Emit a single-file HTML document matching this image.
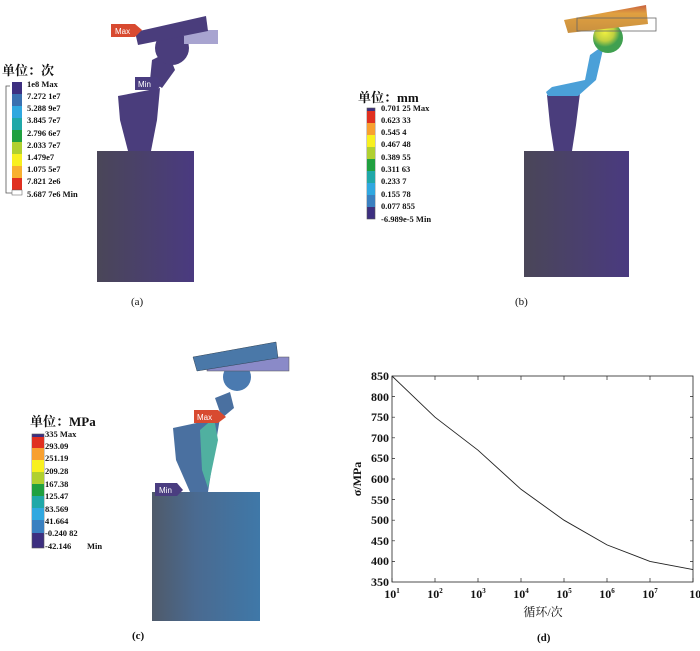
<!DOCTYPE html>
<html><head><meta charset="utf-8"><style>
body{margin:0;background:#fff}
svg text{font-family:"Liberation Serif","Noto Serif CJK SC",serif;fill:#111}
.b{font-weight:bold}
</style></head><body>
<svg width="700" height="646" viewBox="0 0 700 646" xmlns="http://www.w3.org/2000/svg">
<defs>
<linearGradient id="gp" x1="0" x2="1"><stop offset="0" stop-color="#4a4658"/><stop offset="1" stop-color="#4a3a80"/></linearGradient>
<linearGradient id="gb" x1="0" x2="1"><stop offset="0" stop-color="#4f5a6a"/><stop offset="0.4" stop-color="#4a6a90"/><stop offset="1" stop-color="#3f78a8"/></linearGradient>
<linearGradient id="gy" x1="0" x2="0" y1="0" y2="1"><stop offset="0" stop-color="#c86040"/><stop offset="0.3" stop-color="#e0a040"/><stop offset="1" stop-color="#c89040"/></linearGradient>
<radialGradient id="ball" cx="0.4" cy="0.3"><stop offset="0" stop-color="#f0f040"/><stop offset="0.6" stop-color="#c0d040"/><stop offset="1" stop-color="#40a050"/></radialGradient>
</defs>

<!-- Panel a -->
<rect x="97" y="151" width="97" height="131" fill="url(#gp)"/>
<polygon points="118,96 160,88 157,120 151,151 128,151 120,120" fill="#4a3d7c"/>
<polygon points="152,60 168,52 175,70 162,88 150,80" fill="#4a3d7c"/>
<circle cx="172" cy="48" r="17" fill="#4a3d7c"/>
<rect x="184" y="30" width="34" height="14" fill="#a8a4d0"/>
<polygon points="135,32 206,16 208,31 138,45" fill="#4a3d7c"/>
<polygon points="111,24 135,24 142,30 135,37 111,37" fill="#d84a30"/>
<text x="115" y="34" font-size="8" style="fill:#fff;font-family:'Liberation Sans',sans-serif">Max</text>
<polygon points="135,77 157,77 162,84 157,90 135,90" fill="#4a3d80"/>
<text x="138" y="87" font-size="8" style="fill:#fff;font-family:'Liberation Sans',sans-serif">Min</text>
<text x="2" y="75" font-size="13" class="b">单位：次</text>
<path d="M10,86 H6 V193 H12" fill="none" stroke="#555" stroke-width="0.8"/>
<g transform="translate(12,82)">
<rect y="0" width="10" height="12" fill="#3d2f80"/><rect y="12" width="10" height="12" fill="#3a70b0"/><rect y="24" width="10" height="12" fill="#30a8e0"/><rect y="36" width="10" height="12" fill="#20a8a8"/><rect y="48" width="10" height="12" fill="#20a040"/><rect y="60" width="10" height="12" fill="#b0d030"/><rect y="72" width="10" height="12" fill="#f8f020"/><rect y="84" width="10" height="12" fill="#f8b030"/><rect y="96" width="10" height="12" fill="#e03020"/><rect y="108" width="10" height="5" fill="#fff" stroke="#555" stroke-width="0.5"/>
</g>
<g font-size="8.5" class="b">
<text x="27" y="87">1e8 Max</text><text x="27" y="99">7.272 1e7</text><text x="27" y="111">5.288 9e7</text><text x="27" y="123">3.845 7e7</text><text x="27" y="136">2.796 6e7</text><text x="27" y="148">2.033 7e7</text><text x="27" y="160">1.479e7</text><text x="27" y="172">1.075 5e7</text><text x="27" y="184">7.821 2e6</text><text x="27" y="197">5.687 7e6  Min</text>
</g>
<text x="131" y="305" font-size="11">(a)</text>

<!-- Panel b -->
<rect x="524" y="151" width="105" height="126" fill="url(#gp)"/>
<polygon points="547,95 580,93 576,125 572,151 554,151 550,125" fill="#4a3d7c"/>
<polygon points="546,92 552,87 585,80 590,55 604,45 596,80 578,96 548,96" fill="#4ba0d8"/>
<circle cx="608" cy="38" r="15" fill="url(#ball)"/>
<polygon points="564,20 646,5 648,24 568,33" fill="url(#gy)"/>
<rect x="577" y="18" width="79" height="13" fill="none" stroke="#666" stroke-width="0.8"/>
<text x="358" y="102" font-size="13" class="b">单位：mm</text>
<g transform="translate(367,108)">
<rect width="8" height="111" fill="#3d2f80" stroke="#555" stroke-width="0.6"/>
<rect y="3" width="8" height="12" fill="#e03020"/><rect y="15" width="8" height="12" fill="#f8a030"/><rect y="27" width="8" height="12" fill="#f8f020"/><rect y="39" width="8" height="12" fill="#b0d030"/><rect y="51" width="8" height="12" fill="#20a040"/><rect y="63" width="8" height="12" fill="#20a8a8"/><rect y="75" width="8" height="12" fill="#30a8e0"/><rect y="87" width="8" height="12" fill="#3a80c0"/>
</g>
<g font-size="8.5" class="b">
<text x="381" y="111">0.701 25 Max</text><text x="381" y="123">0.623 33</text><text x="381" y="135">0.545 4</text><text x="381" y="147">0.467 48</text><text x="381" y="160">0.389 55</text><text x="381" y="172">0.311 63</text><text x="381" y="184">0.233 7</text><text x="381" y="197">0.155 78</text><text x="381" y="209">0.077 855</text><text x="381" y="222">-6.989e-5  Min</text>
</g>
<text x="515" y="305" font-size="11">(b)</text>

<!-- Panel c -->
<rect x="152" y="492" width="108" height="129" fill="url(#gb)"/>
<polygon points="173,428 220,418 213,460 208,492 190,492 176,460" fill="#4a70a0"/>
<polygon points="200,430 214,418 218,440 208,488 202,470" fill="#50b0a0"/>
<polygon points="215,398 230,392 234,408 222,418" fill="#4a70a0"/>
<circle cx="237" cy="377" r="14" fill="#4a7ab0"/>
<rect x="207" y="357" width="82" height="14" fill="#8a8ac8" stroke="#555" stroke-width="0.5"/>
<polygon points="193,357 276,342 278,358 197,371" fill="#4a78a8" stroke="#345" stroke-width="0.5"/>
<polygon points="194,410 218,410 226,417 218,423 194,423" fill="#d84a30"/>
<text x="197" y="420" font-size="8" style="fill:#fff;font-family:'Liberation Sans',sans-serif">Max</text>
<polygon points="155,483 177,483 183,490 177,496 155,496" fill="#4a3d80"/>
<text x="159" y="493" font-size="8" style="fill:#fff;font-family:'Liberation Sans',sans-serif">Min</text>
<text x="30" y="426" font-size="13" class="b">单位：MPa</text>
<g transform="translate(32,434)">
<rect width="12" height="114" fill="#3d2f80" stroke="#555" stroke-width="0.6"/>
<rect y="3" width="12" height="11" fill="#e03020"/><rect y="14" width="12" height="12" fill="#f8a030"/><rect y="26" width="12" height="12" fill="#f8f020"/><rect y="38" width="12" height="12" fill="#b0d030"/><rect y="50" width="12" height="12" fill="#20a040"/><rect y="62" width="12" height="12" fill="#20a8a8"/><rect y="74" width="12" height="12" fill="#30a8e0"/><rect y="86" width="12" height="13" fill="#3a80c0"/>
</g>
<g font-size="8.5" class="b">
<text x="45" y="437">335 Max</text><text x="45" y="449">293.09</text><text x="45" y="461">251.19</text><text x="45" y="474">209.28</text><text x="45" y="487">167.38</text><text x="45" y="499">125.47</text><text x="45" y="512">83.569</text><text x="45" y="524">41.664</text><text x="45" y="536">-0.240 82</text><text x="45" y="549">-42.146</text><text x="87" y="549">Min</text>
</g>
<text x="132" y="639" font-size="11" class="b">(c)</text>

<!-- Panel d -->
<rect x="392" y="376" width="301" height="206" fill="none" stroke="#222" stroke-width="0.8"/>
<g stroke="#222" stroke-width="0.7">
<path d="M392,376v4M435,376v4M478,376v4M521,376v4M564,376v4M607,376v4M650,376v4M392,582v-4M435,582v-4M478,582v-4M521,582v-4M564,582v-4M607,582v-4M650,582v-4M693,582v-4"/>
<path d="M392,396.6h3M392,417.2h3M392,437.8h3M392,458.4h3M392,479h3M392,499.6h3M392,520.2h3M392,540.8h3M392,561.4h3M693,396.6h-3M693,417.2h-3M693,437.8h-3M693,458.4h-3M693,479h-3M693,499.6h-3M693,520.2h-3M693,540.8h-3M693,561.4h-3"/>
</g>
<polyline points="392,376 435,417.2 478,450.2 521,489.3 564,520.2 607,544.9 650,561.4 693,569.6" fill="none" stroke="#222" stroke-width="0.9"/>
<g font-size="12" text-anchor="end" class="b">
<text x="389" y="380">850</text><text x="389" y="401">800</text><text x="389" y="421">750</text><text x="389" y="442">700</text><text x="389" y="462">650</text><text x="389" y="483">600</text><text x="389" y="504">550</text><text x="389" y="524">500</text><text x="389" y="545">450</text><text x="389" y="565">400</text><text x="389" y="586">350</text>
</g>
<g font-size="12" text-anchor="middle" class="b">
<text x="392" y="598">10<tspan font-size="7" dy="-5">1</tspan></text>
<text x="435" y="598">10<tspan font-size="7" dy="-5">2</tspan></text>
<text x="478" y="598">10<tspan font-size="7" dy="-5">3</tspan></text>
<text x="521" y="598">10<tspan font-size="7" dy="-5">4</tspan></text>
<text x="564" y="598">10<tspan font-size="7" dy="-5">5</tspan></text>
<text x="607" y="598">10<tspan font-size="7" dy="-5">6</tspan></text>
<text x="650" y="598">10<tspan font-size="7" dy="-5">7</tspan></text>
<text x="697" y="598">10<tspan font-size="7" dy="-5">8</tspan></text>
</g>
<text x="543" y="616" font-size="12" text-anchor="middle">循环/次</text>
<text transform="translate(361,479) rotate(-90)" font-size="12" text-anchor="middle" class="b">σ/MPa</text>
<text x="537" y="641" font-size="11" class="b">(d)</text>
</svg>
</body></html>
